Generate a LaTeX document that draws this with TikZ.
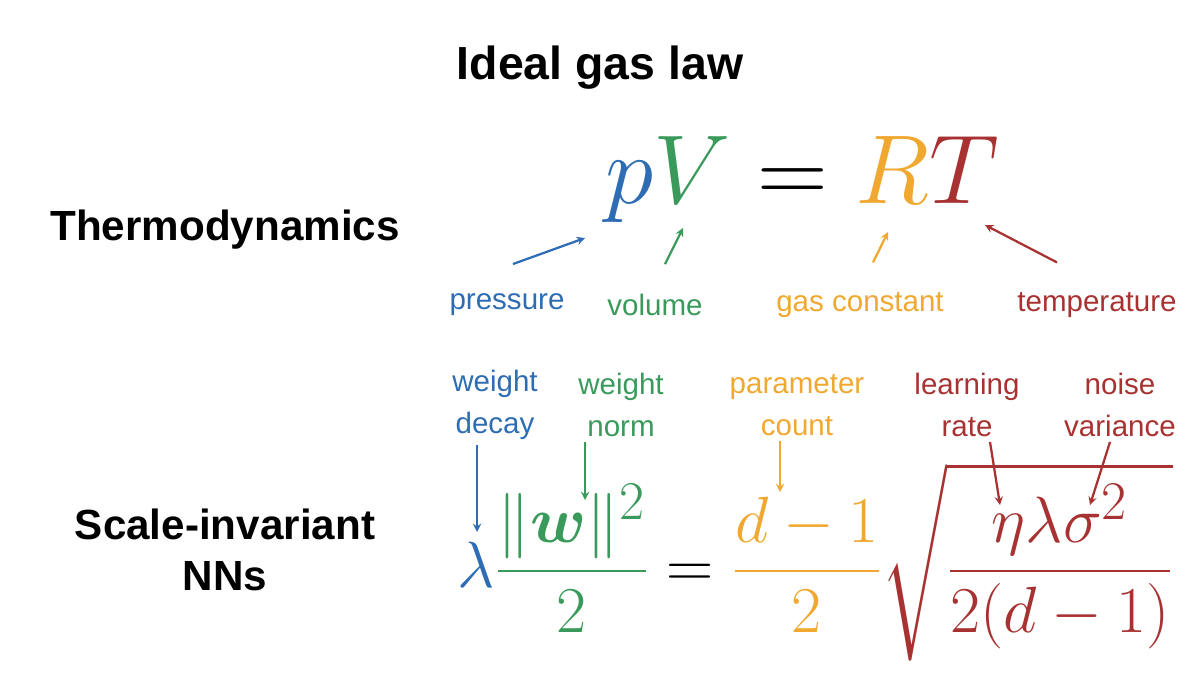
\documentclass[tikz,border=0pt]{standalone}
\usepackage{fontspec}
\setmainfont{Liberation Sans}
\usepackage{amsmath}
\usepackage{bm}
\usepackage{graphicx}
\usetikzlibrary{positioning}
\definecolor{cblue}{HTML}{2E6DB4}
\definecolor{cgreen}{HTML}{3A9A5B}
\definecolor{corange}{HTML}{F0A830}
\definecolor{cred}{HTML}{A83232}
\tikzset{
  head/.style={font=\fontsize{30}{36}\selectfont\bfseries, align=center},
  lab/.style={font=\fontsize{21}{30}\selectfont, align=center},
  arr/.style={->, line width=1.6pt, >=stealth},
  big/.style={font=\fontsize{24.88}{30}\selectfont}
}
\begin{document}
\begin{tikzpicture}[x=0.025cm, y=-0.025cm]
\useasboundingbox (0,0) rectangle (1200,675);
\node[head, font=\fontsize{33}{40}\selectfont\bfseries] (title) at (600,68) {Ideal gas law};
\node[head] (thermo) at (225,230) {Thermodynamics};
\node[head] (scale) at (225,550) {Scale-invariant\\NNs};
% ideal gas law
\node[big] (gas) at (802,180) {\scalebox{2.8}{$\color{cblue}p\color{cgreen}V \color{black}= \color{corange}R\color{cred}T$}};
\node[lab, text=cblue] (press) at (507,305) {pressure};
\node[lab, text=cgreen] (vol) at (655,305) {volume};
\node[lab, text=corange] (gconst) at (860,305) {gas constant};
\node[lab, text=cred] (temp) at (1097,305) {temperature};
\coordinate (tp) at (585,238);
\coordinate (tv) at (683,228);
\coordinate (tr) at (888,232);
\coordinate (tt) at (985,225);
\draw[arr, cblue] (press.north) ++(6,-25) -- (tp);
\draw[arr, cgreen] (vol.north) ++(10,-25) -- (tv);
\draw[arr, corange] (gconst.north) ++(13,-25) -- (tr);
\draw[arr, cred] (temp.north) ++(-40,-25) -- (tt);
% scale-invariant networks
\node[big] (eq) at (815,562) {\scalebox{1.87}{$\color{cblue}\lambda\color{cgreen}\dfrac{\|\bm{w}\|^2}{2} \color{black}= \color{corange}\dfrac{d-1}{2}\color{cred}\sqrt{\dfrac{\eta\lambda\sigma^2}{2(d-1)}}$}};
\node[lab, text=cblue] (wd) at (495,405) {weight\\decay};
\node[lab, text=cgreen] (wn) at (621,405) {weight\\norm};
\node[lab, text=corange] (pc) at (797,405) {parameter\\count};
\node[lab, text=cred] (lr) at (967,405) {learning\\rate};
\node[lab, text=cred] (nv) at (1120,405) {noise\\variance};
\coordinate (tl) at (477,532);
\coordinate (tw) at (585,500);
\coordinate (td) at (780,492);
\coordinate (te) at (1000,505);
\coordinate (ts) at (1090,505);
\draw[arr, cblue] (wd.south -| tl) -- (tl);
\draw[arr, cgreen] (wn.south -| tw) -- (tw);
\draw[arr, corange] (pc.south -| td) -- (td);
\draw[arr, cred] (lr.south) ++(23,0) -- (te);
\draw[arr, cred] (nv.south) ++(-10,0) -- (ts);
\end{tikzpicture}
\end{document}
